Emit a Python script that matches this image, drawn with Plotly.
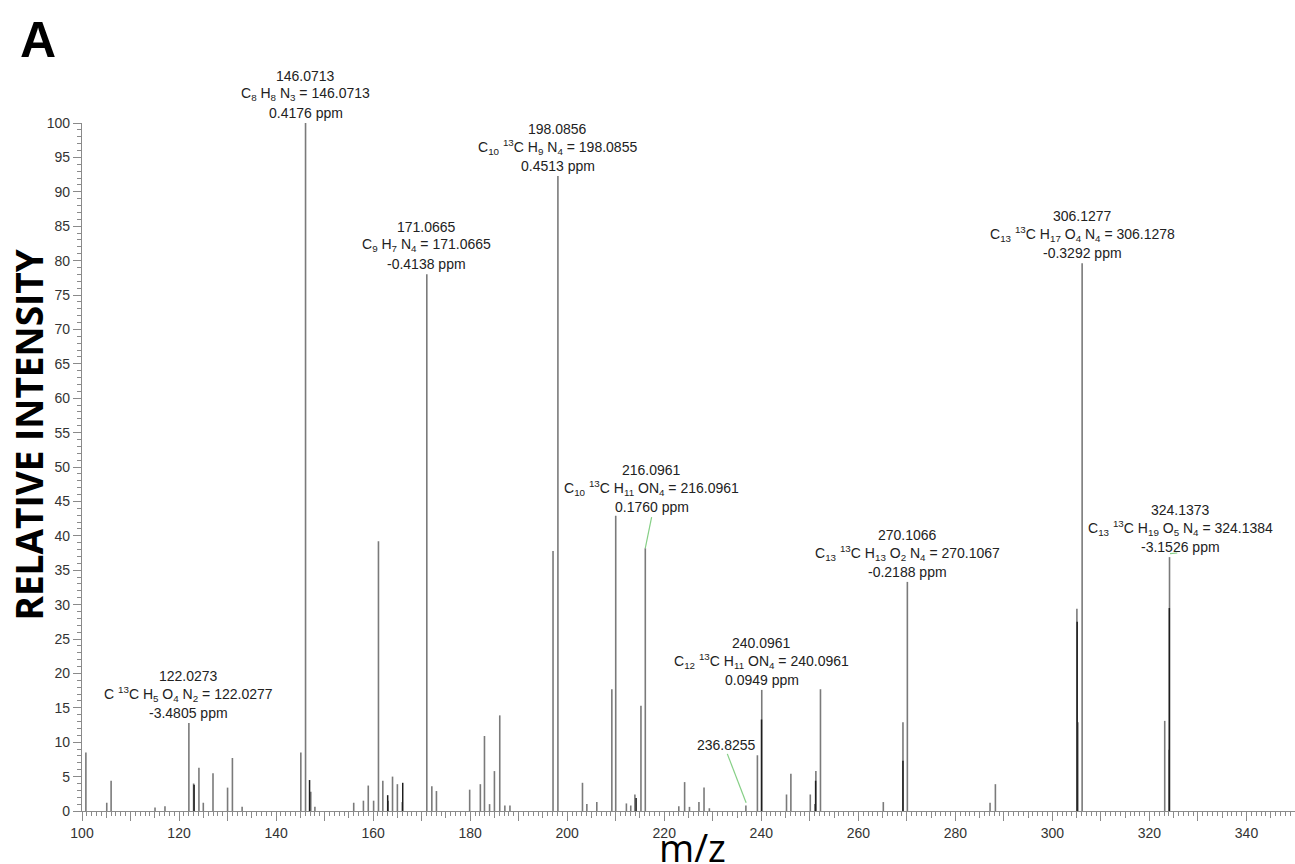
import plotly.graph_objects as go

# ---------------- data ----------------
# gray sticks (m/z, relative intensity)
gray_mz = [100.8, 105.1, 106.0, 115.05, 117.1, 122.0273, 123.0, 124.1, 125.0, 127.0,
           130.0, 131.0, 133.0, 145.1, 146.0713, 147.15, 148.0, 156.0, 158.0, 159.0,
           160.1, 161.1, 162.0, 163.1, 164.0, 165.0, 166.0, 171.0665, 172.1, 173.05,
           179.9, 182.1, 182.95, 184.0, 185.0, 186.1, 187.15, 188.2, 197.08, 198.0856,
           203.15, 204.05, 206.1, 209.2, 210.0, 212.2, 213.1, 213.95, 215.2, 216.0961,
           223.0, 224.2, 225.2, 227.15, 228.2, 229.3, 236.8255, 239.2, 240.0961, 245.2,
           246.1, 250.1, 251.05, 251.25, 252.2, 265.15, 269.2, 270.1066, 287.15, 288.25,
           305.05, 305.25, 306.1277, 323.15, 324.05, 324.1373]
gray_int = [8.5, 1.2, 4.4, 0.5, 0.7, 12.8, 4.0, 6.3, 1.2, 5.5,
            3.4, 7.7, 0.6, 8.5, 100.0, 2.8, 0.6, 1.2, 1.5, 3.7,
            1.5, 39.2, 4.4, 1.5, 5.0, 3.9, 1.3, 78.0, 3.6, 2.9,
            3.1, 3.9, 10.9, 1.0, 5.8, 13.9, 0.8, 0.8, 37.8, 92.3,
            4.1, 1.0, 1.3, 17.7, 42.9, 1.1, 0.8, 2.4, 15.3, 38.2,
            0.7, 4.2, 0.6, 1.3, 3.4, 0.4, 0.8, 8.1, 17.6, 2.4,
            5.4, 2.4, 1.0, 5.8, 17.7, 1.3, 12.9, 33.3, 1.2, 3.9,
            29.4, 12.9, 79.6, 13.1, 8.9, 36.9]

# darker (overlapping) sticks
dark_mz = [123.1, 146.9, 163.0, 166.1, 214.2, 240.05, 251.2, 269.2, 305.1, 324.1]
dark_int = [3.8, 4.5, 2.3, 4.1, 1.9, 13.3, 4.4, 7.3, 27.5, 29.5]

# annotated peaks
lab_peak_mz = [122.0273, 146.0713, 171.0665, 198.0856, 216.0961, 240.0961, 270.1066, 306.1277, 324.1373]
lab_peak_int = [12.8, 100.0, 78.0, 92.3, 38.2, 17.6, 33.3, 79.6, 36.9]
lab_text_x = [122.0273, 146.0713, 171.0665, 198.0856, 217.4, 240.0961, 270.1066, 306.1277, 326.4]
lab_text_y = [12.8, 100.0, 78.0, 92.3, 42.7, 17.6, 33.3, 79.6, 36.9]
lab_mass = ["122.0273", "146.0713", "171.0665", "198.0856", "216.0961", "240.0961", "270.1066", "306.1277", "324.1373"]
lab_formula = [
    "C <sup>13</sup>C H<sub>5</sub> O<sub>4</sub> N<sub>2</sub> = 122.0277",
    "C<sub>8</sub> H<sub>8</sub> N<sub>3</sub> = 146.0713",
    "C<sub>9</sub> H<sub>7</sub> N<sub>4</sub> = 171.0665",
    "C<sub>10</sub> <sup>13</sup>C H<sub>9</sub> N<sub>4</sub> = 198.0855",
    "C<sub>10</sub> <sup>13</sup>C H<sub>11</sub> ON<sub>4</sub> = 216.0961",
    "C<sub>12</sub> <sup>13</sup>C H<sub>11</sub> ON<sub>4</sub> = 240.0961",
    "C<sub>13</sub> <sup>13</sup>C H<sub>13</sub> O<sub>2</sub> N<sub>4</sub> = 270.1067",
    "C<sub>13</sub> <sup>13</sup>C H<sub>17</sub> O<sub>4</sub> N<sub>4</sub> = 306.1278",
    "C<sub>13</sub> <sup>13</sup>C H<sub>19</sub> O<sub>5</sub> N<sub>4</sub> = 324.1384",
]
lab_ppm = ["-3.4805 ppm", "0.4176 ppm", "-0.4138 ppm", "0.4513 ppm", "0.1760 ppm",
           "0.0949 ppm", "-0.2188 ppm", "-0.3292 ppm", "-3.1526 ppm"]

# single-line label
small_peak_mz = 236.8255
small_peak_int = 0.8
small_text_x = 232.8
small_text_y = 8.3
small_text = "236.8255"

x_range = [100, 350]
y_range = [0, 100]
x_label_vals = list(range(100, 351, 20))
x_major_vals = list(range(100, 351, 10))
x_mid_vals = list(range(105, 351, 10))
y_vals = list(range(0, 101, 5))

# ---------------- styling ----------------
GRAY = "#7a7a7a"
DARK = "#1e1e1e"
AXIS = "#8a8a8a"
GREEN = "#86cf86"
TXT = "#222222"
FONT = "Liberation Sans, Arial, sans-serif"


def sticks(xs, ys):
    sx, sy = [], []
    for x, y in zip(xs, ys):
        sx += [x, x, None]
        sy += [0, y, None]
    return sx, sy


fig = go.Figure()

gx, gy = sticks(gray_mz, gray_int)
fig.add_trace(go.Scatter(x=gx, y=gy, mode="lines", line=dict(color=GRAY, width=1.6),
                         hoverinfo="skip", showlegend=False))
dx, dy = sticks(dark_mz, dark_int)
fig.add_trace(go.Scatter(x=dx, y=dy, mode="lines", line=dict(color=DARK, width=1.5),
                         hoverinfo="skip", showlegend=False))

# green connector lines (peak top -> label)
cx, cy = [], []
cx += [lab_peak_mz[4], lab_text_x[4], None]
cy += [lab_peak_int[4], lab_text_y[4], None]
cx += [lab_peak_mz[8] + 0.1, lab_peak_mz[8] + 1.6, None]
cy += [lab_peak_int[8] + 0.5, lab_peak_int[8] + 0.6, None]
cx += [small_peak_mz + 0.05, small_text_x + 0.2, None]
cy += [small_peak_int + 0.4, small_text_y, None]
fig.add_trace(go.Scatter(x=cx, y=cy, mode="lines", line=dict(color=GREEN, width=1.2),
                         hoverinfo="skip", showlegend=False))

# dummy trace to hold the mid-tick axis
fig.add_trace(go.Scatter(x=[None], y=[None], xaxis="x2", showlegend=False, hoverinfo="skip"))

ann = []
for i in range(len(lab_mass)):
    for text, shift in [(lab_ppm[i], 10), (lab_formula[i], 29), (lab_mass[i], 47)]:
        ann.append(dict(x=lab_text_x[i], y=lab_text_y[i], xref="x", yref="y", text=text,
                        showarrow=False, xanchor="center", yanchor="middle", yshift=shift,
                        font=dict(family=FONT, size=14, color=TXT)))
ann.append(dict(x=small_text_x, y=small_text_y, xref="x", yref="y", text=small_text,
                showarrow=False, xanchor="center", yanchor="middle", yshift=9,
                font=dict(family=FONT, size=14, color=TXT)))

ann.append(dict(x=-0.0449, y=0.5465, xref="paper", yref="paper", text="<b>RELATIVE INTENSITY</b>",
                textangle=-90, showarrow=False, xanchor="center", yanchor="middle",
                font=dict(family="Open Sans, sans-serif", size=37, color="black")))
ann.append(dict(x=0.503, y=-0.052, xref="paper", yref="paper", text="m/z",
                showarrow=False, xanchor="center", yanchor="middle",
                font=dict(family="Open Sans, sans-serif", size=38, color="black")))
ann.append(dict(x=-0.0359, y=1.1206, xref="paper", yref="paper", text="<b>A</b>",
                showarrow=False, xanchor="center", yanchor="middle",
                font=dict(family=FONT, size=50, color="black")))

fig.update_layout(
    width=1295, height=864,
    margin=dict(l=82, r=0, t=123, b=53),
    paper_bgcolor="white", plot_bgcolor="white",
    showlegend=False,
    annotations=ann,
    xaxis=dict(
        range=x_range, showgrid=False, zeroline=False, automargin=False,
        showline=True, linecolor=AXIS, linewidth=1.2,
        ticks="outside", ticklen=9, tickwidth=1, tickcolor=AXIS,
        tickmode="array", tickvals=x_major_vals,
        ticktext=[str(v) if v in x_label_vals else "" for v in x_major_vals],
        tickfont=dict(family=FONT, size=14, color="#333333"),
        minor=dict(tickmode="linear", tick0=100, dtick=1, ticklen=4, tickwidth=1,
                   tickcolor=AXIS, ticks="outside", showgrid=False),
    ),
    xaxis2=dict(
        range=x_range, overlaying="x", anchor="y", side="bottom", automargin=False,
        showgrid=False, zeroline=False, showline=False,
        ticks="outside", ticklen=6, tickwidth=1, tickcolor=AXIS,
        tickmode="array", tickvals=x_mid_vals, showticklabels=False,
    ),
    yaxis=dict(
        range=y_range, showgrid=False, zeroline=False, automargin=False,
        showline=True, linecolor=AXIS, linewidth=1.2,
        ticks="outside", ticklen=8, tickwidth=1, tickcolor=AXIS,
        tickmode="array", tickvals=y_vals,
        tickfont=dict(family=FONT, size=14, color="#333333"),
        minor=dict(tickmode="linear", tick0=0, dtick=1, ticklen=4, tickwidth=1,
                   tickcolor=AXIS, ticks="outside", showgrid=False),
    ),
)

fig.write_html(
    "out.html",
    config={"displayModeBar": False},
    post_script="document.body.style.margin='0';document.body.style.overflow='hidden';",
)
